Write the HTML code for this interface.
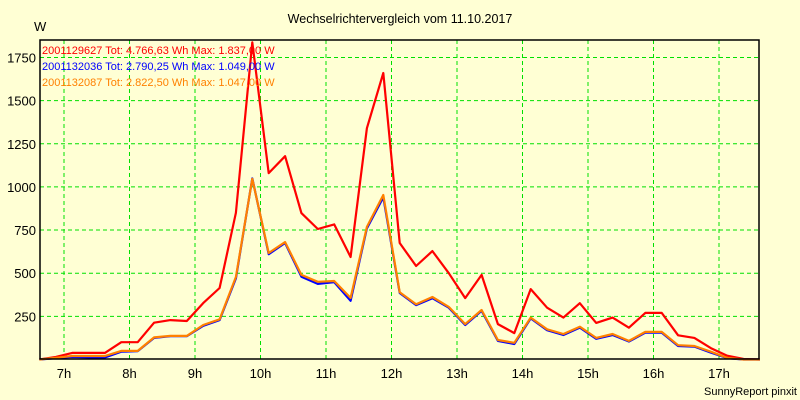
<!DOCTYPE html>
<html><head><meta charset="utf-8"><style>
body{margin:0;background:#FFFFD4;}
svg{display:block;font-family:"Liberation Sans",sans-serif;}
</style></head><body>
<svg width="800" height="400">
<rect width="800" height="400" fill="#FFFFD4"/>
<g id="grid"></g>
<g id="ticks"></g>
<g id="series"></g>
<rect x="40" y="40" width="719" height="319" fill="none" stroke="#000" stroke-width="1.5"/>
<text x="400" y="23" font-size="12.5" text-anchor="middle">Wechselrichtervergleich vom 11.10.2017</text>
<text x="34" y="31" font-size="13">W</text>
<text x="42" y="54" font-size="11" fill="#ff0000">2001129627 Tot: 4.766,63 Wh Max: 1.837,00 W</text>
<text x="42" y="70" font-size="11" fill="#0000ff">2001132036 Tot: 2.790,25 Wh Max: 1.049,00 W</text>
<text x="42" y="86" font-size="11" fill="#ff8000">2001132087 Tot: 2.822,50 Wh Max: 1.047,00 W</text>
<text x="797" y="395" font-size="11" text-anchor="end">SunnyReport pinxit</text>
</svg>
<script>
const hourTicks=[7,8,9,10,11,12,13,14,15,16,17];
const yTicks=[250,500,750,1000,1250,1500,1750];
const startHour=6.625, stepHour=0.25;
const red=[0,15,38,38,38,100,100,213,228,223,327,414,850,1837,1080,1178,848,756,783,594,1340,1660,675,542,628,500,356,490,205,153,408,300,243,326,212,243,184,270,270,140,125,66,22,3,0];
const blue=[0,8,15,12,12,45,48,125,135,135,195,228,470,1049,610,675,480,438,448,340,760,940,385,315,355,300,200,282,108,90,238,170,142,185,120,142,104,155,155,78,75,40,8,0,0];
const orange=[0,10,20,20,20,50,50,128,137,137,200,233,478,1047,617,680,490,450,455,357,768,953,390,320,362,305,205,287,113,97,243,175,148,190,125,148,108,160,160,83,78,45,10,0,0];
const X=h=>64+(h-7)*65.5;
const Y=v=>359.5-v*0.1726;
const NS='http://www.w3.org/2000/svg';
const grid=document.getElementById('grid'),ticks=document.getElementById('ticks'),ser=document.getElementById('series');
function mk(t,a,p){const e=document.createElementNS(NS,t);for(const k in a)e.setAttribute(k,a[k]);p.appendChild(e);return e;}
hourTicks.forEach(h=>{
 const l=mk('line',{x1:X(h),x2:X(h),y1:40,y2:359,stroke:'#00e000','stroke-dasharray':'4,3'},grid);
 
 
 const t=mk('text',{x:X(h),y:378,'font-size':13,'text-anchor':'middle'},ticks);t.textContent=h+'h';
 
 
});
yTicks.forEach(v=>{
 const l=mk('line',{x1:40,x2:759,y1:Y(v),y2:Y(v),stroke:'#00e000','stroke-dasharray':'4,3'},grid);
 
 
 const t=mk('text',{x:36,y:Y(v)+5,'font-size':13,'text-anchor':'end'},ticks);t.textContent=v;
 
 
});
[[red,'#ff0000','series-red'],[blue,'#0000ff','series-blue'],[orange,'#ff8000','series-orange']].forEach(([d,c,n])=>{
 const pts=d.map((v,i)=>X(startHour+i*stepHour).toFixed(1)+','+Y(v).toFixed(1)).join(' ');
 const p=mk('polyline',{points:pts,fill:'none',stroke:c,'stroke-width':2.2,'stroke-linejoin':'round'},ser);
 
 
});
</script>
</body></html>
